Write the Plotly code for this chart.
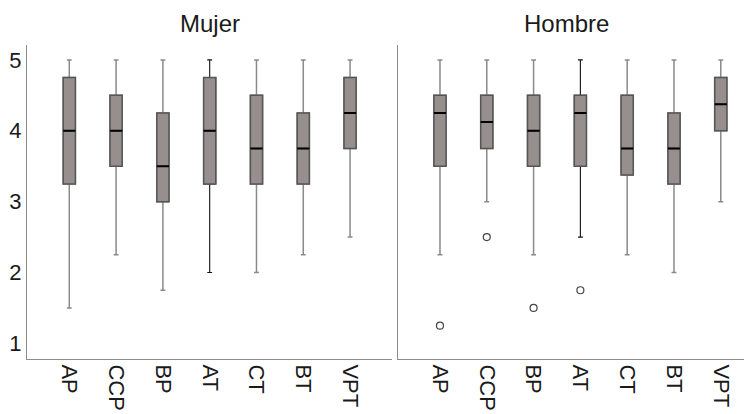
import plotly.graph_objects as go

categories = ["AP", "CCP", "BP", "AT", "CT", "BT", "VPT"]

# Mujer
m_low = [1.5, 2.25, 1.75, 2.0, 2.0, 2.25, 2.5]
m_q1 = [3.25, 3.5, 3.0, 3.25, 3.25, 3.25, 3.75]
m_med = [4.0, 4.0, 3.5, 4.0, 3.75, 3.75, 4.25]
m_q3 = [4.75, 4.5, 4.25, 4.75, 4.5, 4.25, 4.75]
m_high = [5, 5, 5, 5, 5, 5, 5]

# Hombre
h_low = [2.25, 3.0, 2.25, 2.5, 2.25, 2.0, 3.0]
h_q1 = [3.5, 3.75, 3.5, 3.5, 3.375, 3.25, 4.0]
h_med = [4.25, 4.125, 4.0, 4.25, 3.75, 3.75, 4.375]
h_q3 = [4.5, 4.5, 4.5, 4.5, 4.5, 4.25, 4.75]
h_high = [5, 5, 5, 5, 5, 5, 5]

h_out_cat = ["AP", "CCP", "BP", "AT"]
h_out_val = [1.25, 2.5, 1.5, 1.75]

titles = ["Mujer", "Hombre"]
yticks = [1, 2, 3, 4, 5]

FILL = "#968f8d"
OUTLINE = "#555555"
WHISK = "#8a8a8a"
FONT = "Liberation Sans, Arial, sans-serif"
BW = 0.26

fig = go.Figure()

def add_panel(xa, ya, low, q1, med, q3, high):
    for cats_sel, col, lw in [([c for c in categories if c != "AT"], WHISK, 1.5), (["AT"], "#111111", 1.1)]:
        idx = [categories.index(c) for c in cats_sel]
        fig.add_trace(go.Box(
            x=cats_sel,
            q1=[q1[i] for i in idx], median=[med[i] for i in idx], q3=[q3[i] for i in idx],
            lowerfence=[low[i] for i in idx], upperfence=[high[i] for i in idx],
            fillcolor=FILL, line=dict(color=col, width=lw), width=BW,
            whiskerwidth=0.4, xaxis=xa, yaxis=ya, showlegend=False, hoverinfo="skip"))
    fig.add_trace(go.Box(
        x=categories, q1=q1, median=med, q3=q3, lowerfence=q1, upperfence=q3,
        fillcolor=FILL, line=dict(color=OUTLINE, width=1.5), width=BW,
        whiskerwidth=1.0, xaxis=xa, yaxis=ya, showlegend=False, hoverinfo="skip"))
    fig.add_trace(go.Box(
        x=categories, q1=med, median=med, q3=med, lowerfence=med, upperfence=med,
        fillcolor=FILL, line=dict(color="#000000", width=2), width=BW,
        whiskerwidth=1.0, xaxis=xa, yaxis=ya, showlegend=False, hoverinfo="skip"))

add_panel("x", "y", m_low, m_q1, m_med, m_q3, m_high)
add_panel("x2", "y2", h_low, h_q1, h_med, h_q3, h_high)

fig.add_trace(go.Scatter(
    x=h_out_cat, y=h_out_val, mode="markers",
    marker=dict(symbol="circle-open", size=7, color="#444444", line=dict(width=1.2)),
    xaxis="x2", yaxis="y2", showlegend=False, hoverinfo="skip"))

# page body has an 8px margin, so figure coordinates = reference pixels - 8
OFF = 8
W, H = 752 - OFF, 414 - OFF
yd = [(H - (359 - OFF)) / H, (H - (45 - OFF)) / H]
xd1 = [(27 - OFF) / W, (392 - OFF) / W]
xd2 = [(398 - OFF) / W, 1.0]

axis_common = dict(showgrid=False, zeroline=False, showline=True, linecolor="#8c8c8c",
                   linewidth=1, ticks="", automargin=False)

ty = (H - (24 - OFF)) / H

fig.update_layout(
    width=W, height=H,
    margin=dict(l=0, r=0, t=0, b=0),
    paper_bgcolor="white", plot_bgcolor="white",
    boxmode="overlay",
    font=dict(family=FONT, size=22, color="#1a1a1a"),
    xaxis=dict(domain=xd1, anchor="y", type="category", categoryorder="array",
               categoryarray=categories, range=[-0.904, 6.896], tickangle=90,
               tickfont=dict(size=22), **axis_common),
    xaxis2=dict(domain=xd2, anchor="y2", type="category", categoryorder="array",
                categoryarray=categories, range=[-0.897, 6.667], tickangle=90,
                tickfont=dict(size=22), **axis_common),
    yaxis=dict(domain=yd, anchor="x", range=[0.78, 5.21], tickvals=yticks,
               tickfont=dict(size=22), **axis_common),
    yaxis2=dict(domain=yd, anchor="x2", range=[0.78, 5.21], tickvals=yticks,
                showticklabels=False, **axis_common),
    annotations=[
        dict(text=titles[0], x=(210 - OFF) / W, y=ty, xref="paper", yref="paper",
             xanchor="center", yanchor="middle", showarrow=False,
             font=dict(size=24, family=FONT, color="#1a1a1a")),
        dict(text=titles[1], x=(566 - OFF) / W, y=ty, xref="paper", yref="paper",
             xanchor="center", yanchor="middle", showarrow=False,
             font=dict(size=24, family=FONT, color="#1a1a1a")),
    ],
)

fig.write_html("out.html")
